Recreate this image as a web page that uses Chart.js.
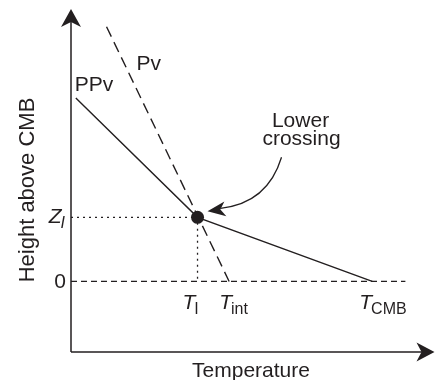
<!DOCTYPE html>
<html lang="en">
<head>
    <meta charset="UTF-8">
    <title>Lower crossing</title>
    <script src="https://cdn.jsdelivr.net/npm/chart.js"></script>
    <style>
        html, body {
            margin: 0;
            padding: 0;
            background: #fff;
        }
        .chart-container {
            position: relative;
            width: 439px;
            height: 380px;
        }
    </style>
</head>
<body>
    <div class="chart-container">
        <canvas id="phaseChart"></canvas>
    </div>

    <script>
        // Temperature axis (arbitrary units) and height above the CMB (units of Z_I)
        const xRange = [0, 12];
        const yRange = [-1.1, 4.2];

        // Temperatures marked on the axis
        const tempLabels = ['T_I', 'T_int', 'T_CMB'];
        const tempValues = [4.2, 5.25, 10];

        // Heights marked on the axis
        const heightLabels = ['0', 'Z_I'];
        const heightValues = [0, 1];

        // Post-perovskite boundary (solid) and perovskite geotherm (dashed)
        const ppvX = [0.16, 4.2, 10];
        const ppvY = [2.86, 1, 0];
        const pvX = [1.18, 5.25];
        const pvY = [3.97, 0];

        // Crossing point and the CMB reference line
        const crossX = [4.2];
        const crossY = [1];
        const zeroLineX = [0, 11.1];
        const zeroLineY = [0, 0];

        const ink = '#231f20';
        const fontFamily = '"Liberation Sans", Arial, Helvetica, sans-serif';

        function toPoints(xs, ys) {
            return xs.map((x, i) => ({ x: x, y: ys[i] }));
        }

        // Filled arrowhead with a notched back
        function arrowHead(ctx, tipX, tipY, angle, len, half) {
            ctx.save();
            ctx.translate(tipX, tipY);
            ctx.rotate(angle);
            ctx.beginPath();
            ctx.moveTo(0, 0);
            ctx.lineTo(-len, -half);
            ctx.lineTo(-len * 0.72, 0);
            ctx.lineTo(-len, half);
            ctx.closePath();
            ctx.fillStyle = ink;
            ctx.fill();
            ctx.restore();
        }

        // Italic symbol with a subscript (e.g. T_CMB), drawn from its left edge
        function symbol(ctx, label, left, baseline) {
            const parts = label.split('_');
            const subFont = (parts[0] === 'Z' ? 'italic ' : '') + '16px ' + fontFamily;
            ctx.textAlign = 'left';
            ctx.textBaseline = 'alphabetic';
            ctx.font = 'italic 21px ' + fontFamily;
            const wMain = ctx.measureText(parts[0]).width;
            ctx.fillText(parts[0], left, baseline);
            ctx.font = subFont;
            ctx.fillText(parts[1], left + wMain - 1, baseline + 5);
        }

        function symbolWidth(ctx, label) {
            const parts = label.split('_');
            ctx.font = 'italic 21px ' + fontFamily;
            const w = ctx.measureText(parts[0]).width;
            ctx.font = (parts[0] === 'Z' ? 'italic ' : '') + '16px ' + fontFamily;
            return w + ctx.measureText(parts[1]).width - 1;
        }

        const diagramPlugin = {
            id: 'diagram',
            afterDatasetsDraw(chart) {
                const ctx = chart.ctx;
                const xs = chart.scales.x;
                const ys = chart.scales.y;
                const left = xs.left;
                const bottom = ys.bottom;

                ctx.save();
                ctx.strokeStyle = ink;
                ctx.fillStyle = ink;
                ctx.lineWidth = 1.5;

                // Axes with arrows
                ctx.beginPath();
                ctx.moveTo(left, bottom);
                ctx.lineTo(left, ys.top + 6);
                ctx.moveTo(left, bottom);
                ctx.lineTo(xs.right - 4, bottom);
                ctx.stroke();
                arrowHead(ctx, left, ys.top - 3, -Math.PI / 2, 18, 10);
                arrowHead(ctx, xs.right + 2, bottom, 0, 18, 9.5);

                // Height tick labels
                heightLabels.forEach((lab, i) => {
                    const py = ys.getPixelForValue(heightValues[i]);
                    if (lab.indexOf('_') < 0) {
                        ctx.font = '21px ' + fontFamily;
                        ctx.textAlign = 'right';
                        ctx.textBaseline = 'middle';
                        ctx.fillText(lab, left - 5, py + 1);
                    } else {
                        symbol(ctx, lab, left - 6 - symbolWidth(ctx, lab), py + 6);
                    }
                });

                // Temperature tick labels, set just below the CMB line
                const tickShift = [-15, -10, -13];
                const labelBase = ys.getPixelForValue(0) + 28;
                tempLabels.forEach((lab, i) => {
                    const px = xs.getPixelForValue(tempValues[i]);
                    symbol(ctx, lab, px + tickShift[i], labelBase);
                });

                // Curve labels
                ctx.font = '21px ' + fontFamily;
                ctx.textAlign = 'left';
                ctx.textBaseline = 'alphabetic';
                const ppvStartX = xs.getPixelForValue(ppvX[0]);
                const ppvStartY = ys.getPixelForValue(ppvY[0]);
                ctx.fillText('PPv', ppvStartX - 1, ppvStartY - 7);
                const pvTopX = xs.getPixelForValue(pvX[0]);
                const pvTopY = ys.getPixelForValue(pvY[0]);
                ctx.fillText('Pv', pvTopX + 30, pvTopY + 43);

                // Annotation and curved arrow to the crossing point
                const cx = xs.getPixelForValue(crossX[0]);
                const cy = ys.getPixelForValue(crossY[0]);
                ctx.textAlign = 'center';
                ctx.fillText('Lower', cx + 103, cy - 90);
                ctx.fillText('crossing', cx + 104, cy - 72);

                const sx = cx + 84, sy = cy - 60;
                const qx = cx + 70, qy = cy - 14;
                const tx = cx + 10, ty = cy - 6;
                ctx.lineWidth = 1.3;
                ctx.beginPath();
                ctx.moveTo(sx, sy);
                ctx.quadraticCurveTo(qx, qy, tx + 13, ty - 3);
                ctx.stroke();
                arrowHead(ctx, tx, ty, Math.atan2(ty - qy, tx - qx), 18, 7.5);

                ctx.restore();
            },
            afterDraw(chart) {
                // Axis titles
                const ctx = chart.ctx;
                const area = chart.chartArea;
                ctx.save();
                ctx.fillStyle = ink;
                ctx.textAlign = 'center';
                ctx.textBaseline = 'alphabetic';
                ctx.font = '21px ' + fontFamily;
                ctx.fillText('Temperature', 251, area.bottom + 25);
                ctx.font = '22px ' + fontFamily;
                ctx.translate(area.left - 37, 190);
                ctx.rotate(-Math.PI / 2);
                ctx.fillText('Height above CMB', 0, 0);
                ctx.restore();
            }
        };

        new Chart(document.getElementById('phaseChart'), {
            type: 'scatter',
            data: {
                datasets: [
                    {
                        label: 'Lower crossing',
                        data: toPoints(crossX, crossY),
                        pointRadius: 6.5,
                        pointBackgroundColor: ink,
                        pointBorderWidth: 0,
                        showLine: false
                    },
                    {
                        label: 'PPv',
                        data: toPoints(ppvX, ppvY),
                        showLine: true,
                        borderColor: ink,
                        borderWidth: 1.4,
                        pointRadius: 0
                    },
                    {
                        label: 'Pv',
                        data: toPoints(pvX, pvY),
                        showLine: true,
                        borderColor: ink,
                        borderWidth: 1.4,
                        borderDash: [11, 6],
                        pointRadius: 0
                    },
                    {
                        label: 'CMB',
                        data: toPoints(zeroLineX, zeroLineY),
                        showLine: true,
                        borderColor: ink,
                        borderWidth: 1.3,
                        borderDash: [6, 4],
                        pointRadius: 0
                    },
                    {
                        label: 'Z_I guide',
                        data: toPoints([0, crossX[0], crossX[0]], [crossY[0], crossY[0], 0]),
                        showLine: true,
                        borderColor: ink,
                        borderWidth: 1.3,
                        borderDash: [2, 4],
                        pointRadius: 0
                    }
                ]
            },
            options: {
                responsive: true,
                maintainAspectRatio: false,
                animation: false,
                layout: {
                    padding: { left: 71, right: 2, top: 12, bottom: 28 }
                },
                scales: {
                    x: { type: 'linear', min: xRange[0], max: xRange[1], display: false },
                    y: { type: 'linear', min: yRange[0], max: yRange[1], display: false }
                },
                plugins: {
                    legend: { display: false },
                    tooltip: { enabled: false },
                    title: { display: false }
                }
            },
            plugins: [diagramPlugin]
        });
    </script>
</body>
</html>
